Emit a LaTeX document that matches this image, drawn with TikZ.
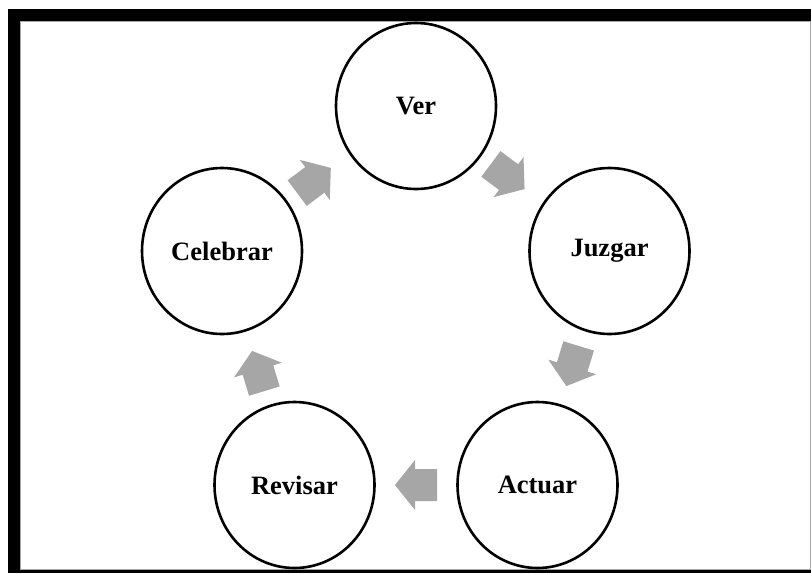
\documentclass[tikz,border=0pt]{standalone}
\usepackage{fontspec}
\setmainfont{Liberation Serif}
\usetikzlibrary{shapes.geometric,calc}
\definecolor{arrowgray}{RGB}{166,166,166}
\begin{document}
\begin{tikzpicture}[x=1pt,y=-1pt,
  stage/.style={draw=black, line width=2.6pt, fill=white, ellipse,
    minimum width=160pt, minimum height=166pt, inner sep=0pt,
    font=\fontsize{26.5}{30}\selectfont\bfseries},
  blockarrow/.style={fill=arrowgray, draw=none}]
\useasboundingbox (0,0) rectangle (811,573);
\fill[white] (0,0) rectangle (811,573);
\fill[black] (8,9) rectangle (811,573);
\filldraw[fill=white, draw=black!35, line width=0.8pt] (20,21) rectangle (810,569);

\node[stage] (ver) at (416,106) {Ver};
\node[stage] (juz) at (609.5,251) {Juzgar};
\node[stage] (act) at (537.5,485) {Actuar};
\node[stage] (rev) at (294.5,485) {Revisar};
\node[stage] (cel) at (222,251) {Celebrar};

\coordinate (m1) at ($(cel)!0.5!(ver)+(-5,2)$);
\coordinate (m2) at ($(ver)!0.5!(juz)+(-5,-2)$);
\coordinate (m3) at ($(juz)!0.5!(act)+(-1,-2)$);
\coordinate (m4) at ($(act)!0.5!(rev)$);
\coordinate (m5) at ($(rev)!0.5!(cel)+(0,3)$);

\foreach \m/\ang in {m1/36.8, m2/-36.8, m3/-107, m4/180, m5/107}{
  \begin{scope}[shift={(\m)}, rotate=\ang]
    \fill[blockarrow] (-21,-16) -- (1,-16) -- (1,-25) -- (21,0) -- (1,25) -- (1,16) -- (-21,16) -- cycle;
  \end{scope}
}
\end{tikzpicture}
\end{document}
